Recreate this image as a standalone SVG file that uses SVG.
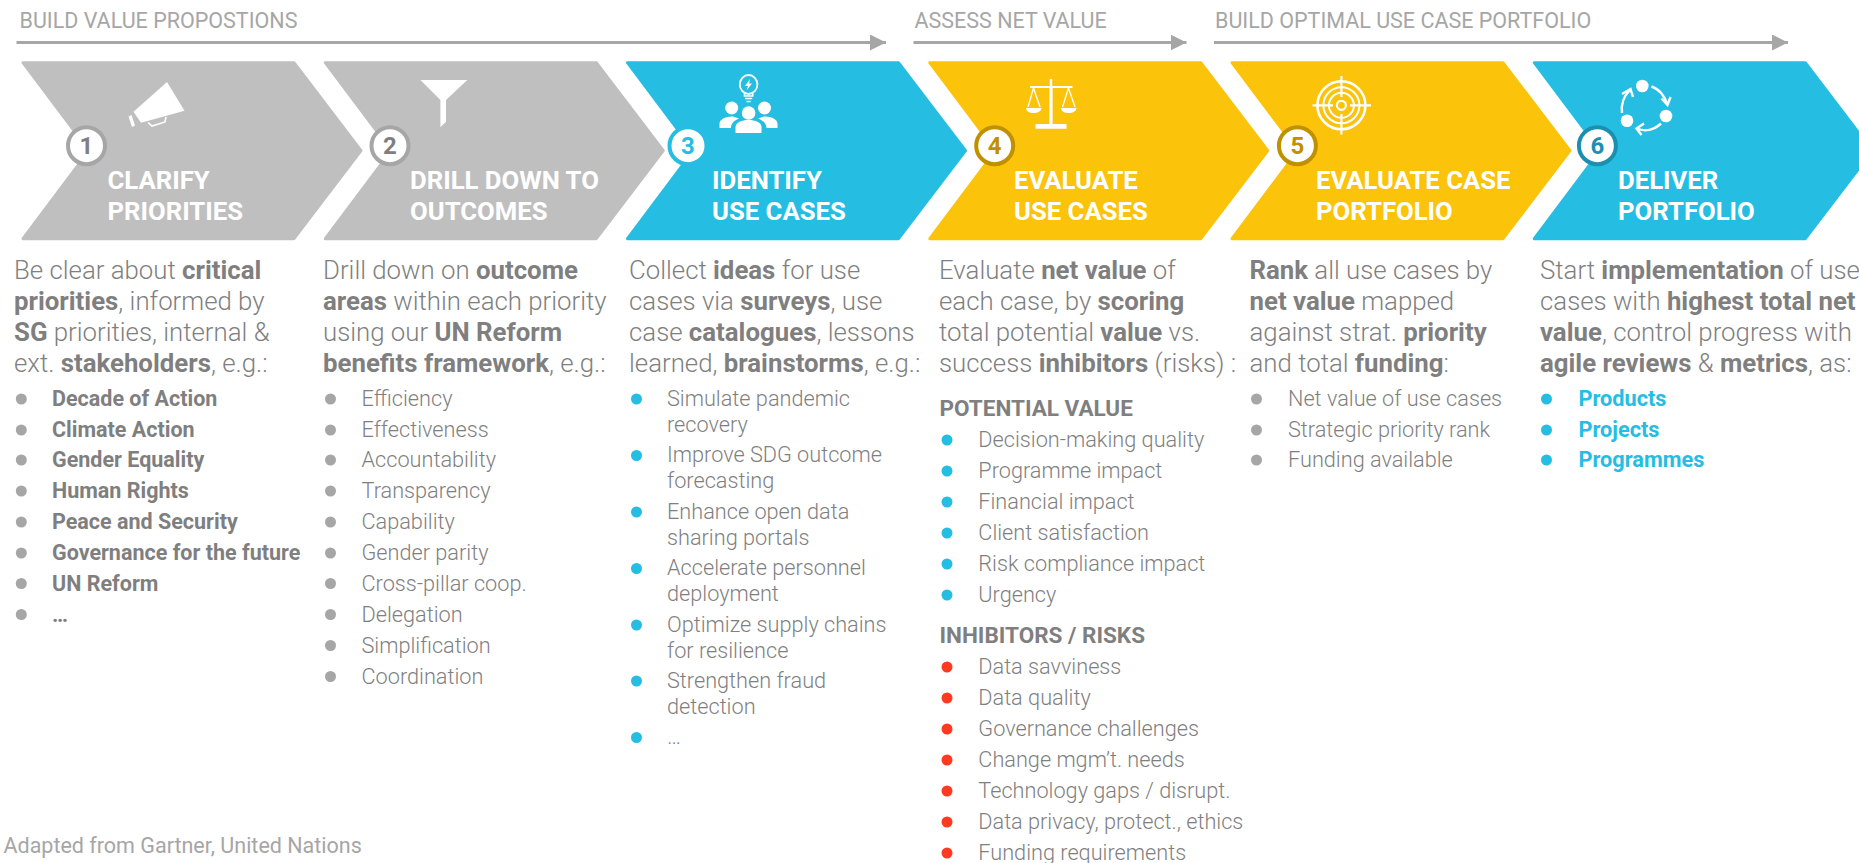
<svg xmlns="http://www.w3.org/2000/svg" width="1859" height="863" viewBox="0 0 1859 863">
<style>
text{font-family:Roboto,"Liberation Sans",sans-serif}
.ph{font-size:21.5px;fill:#a6a6a6}
.ttl{font-size:25.7px;font-weight:700;fill:#fff}
.hd{font-size:25.8px;font-weight:300;fill:#7f7f7f}
.hd tspan.b,.b{font-weight:700}
.li{font-size:21.7px;font-weight:300;fill:#7f7f7f}
.lb{font-size:21.5px;font-weight:700;fill:#7f7f7f}
.sub{font-size:22.5px;font-weight:700;fill:#7f7f7f}
.lbb{font-size:21.7px;font-weight:700;fill:#25bde4}
.num{font-size:24px;font-weight:700;text-anchor:middle}
.g{fill:#bfbfbf;stroke:#bfbfbf}.c{fill:#26bde2;stroke:#26bde2}.y{fill:#fcc30b;stroke:#fcc30b}
.chev{stroke-width:3;stroke-linejoin:round}
.ring{fill:#fff;stroke-width:4}
.dg{fill:#a6a6a6}.dc{fill:#26bde2}.dr{fill:#ff3a21}
.ic{fill:#fff}.il{fill:none;stroke:#fff;stroke-width:2.4}
.conn{fill:none;stroke:#a6a6a6;stroke-width:3;marker-end:url(#ah)}
</style>
<defs>
<marker id="ah" markerUnits="userSpaceOnUse" markerWidth="16" markerHeight="16" refX="16" refY="8" orient="auto"><path d="M0,0L16,8L0,16Z" fill="#a6a6a6"/></marker>
<path id="ch" d="M0,0H271L338,88L271,176H0L66,88Z"/>
</defs>

<g id="phases">
<text class="ph" x="19.5" y="28">BUILD VALUE PROPOSTIONS</text>
<text class="ph" x="914.5" y="28">ASSESS NET VALUE</text>
<text class="ph" x="1215" y="28">BUILD OPTIMAL USE CASE PORTFOLIO</text>
</g>
<g id="connectors">
<path class="conn" d="M16.5,42.5H886"/>
<path class="conn" d="M913.5,42.5H1186.5"/>
<path class="conn" d="M1214,42.5H1788"/>
</g>

<g id="step1">
<use href="#ch" x="23" y="62.7" class="chev g"/>
<path class="ic" d="M167,82L184.5,110.7L141,122.7L133.5,111.7Z"/>
<path class="ic" d="M128.5,116.5L131.5,115L135,125.5L132,127Z"/>
<path class="il" style="stroke-width:1.6" d="M148,122.5L152,126L165,122L166,117"/>
<circle class="ring" cx="86.5" cy="145.7" r="18.5" stroke="#a6a6a6"/>
<text class="num" x="86.5" y="154.2" fill="#7f7f7f">1</text>
<text class="ttl" x="107.5" y="188.5">CLARIFY</text>
<text class="ttl" x="107.5" y="219.5">PRIORITIES</text>
</g>
<g id="step2">
<use href="#ch" x="325.3" y="62.7" class="chev g"/>
<path class="ic" d="M420.4,80H467.3L446,100V121.7L440.4,127.3V100Z"/>
<circle class="ring" cx="390" cy="145.7" r="18.5" stroke="#a6a6a6"/>
<text class="num" x="390" y="154.2" fill="#7f7f7f">2</text>
<text class="ttl" x="410" y="188.5">DRILL DOWN TO</text>
<text class="ttl" x="410" y="219.5">OUTCOMES</text>
</g>
<g id="step3">
<use href="#ch" x="627.5" y="62.7" class="chev c"/>
<ellipse class="il" style="stroke-width:1.8" cx="748.6" cy="84.5" rx="8.8" ry="9.5"/>
<path class="il" style="stroke-width:1.6" d="M744.5,92.5V96H752.7V92.5M745,98.5H752.2M746.5,101.5H750.7"/>
<path class="ic" d="M750,79L745,86H748L746.5,90.5L752,83.5H749Z"/>
<circle class="ic" cx="731.7" cy="108" r="6.5"/>
<circle class="ic" cx="764.5" cy="108" r="6.5"/>
<circle class="ic" cx="748.6" cy="113" r="6.8"/>
<path class="ic" d="M719.5,128V123.5C719.5,119.5 726,116 733,116.5L739,118.5C733,121 731,124 731,128Z"/>
<path class="ic" d="M777.5,128V123.5C777.5,119.5 771,116 764,116.5L758,118.5C764,121 766.5,124 766.5,128Z"/>
<path class="ic" d="M735.5,133V127C735.5,122.5 742,120 748.6,120C755.2,120 761.5,122.5 761.5,127V133Z"/>
<circle class="ring" cx="688" cy="145.7" r="18.5" stroke="#26bde2"/>
<text class="num" x="688" y="154.2" fill="#26bde2">3</text>
<text class="ttl" x="712" y="188.5">IDENTIFY</text>
<text class="ttl" x="712" y="219.5">USE CASES</text>
</g>
<g id="step4">
<use href="#ch" x="929.8" y="62.7" class="chev y"/>
<path class="ic" d="M1049.8,79H1052.2V86H1072.5V88H1052.6V124H1066.5V128.7H1035.5V124H1049.4V88H1030V86H1049.8Z"/>
<path class="il" style="stroke-width:1.3" d="M1033.5,88L1028,107M1033.5,88L1040,107M1068.5,88L1062.5,107M1068.5,88L1075,107"/>
<path class="ic" d="M1026,108H1041.5C1041,112 1037,113 1033.5,113C1030,113 1026.5,112 1026,108Z"/>
<path class="ic" d="M1061,108H1076.5C1076,112 1072,113 1068.5,113C1065,113 1061.5,112 1061,108Z"/>
<circle class="ring" cx="994.7" cy="145.7" r="18.5" stroke="#bf9000"/>
<text class="num" x="994.7" y="154.2" fill="#bf9000">4</text>
<text class="ttl" x="1014" y="188.5">EVALUATE</text>
<text class="ttl" x="1014" y="219.5">USE CASES</text>
</g>
<g id="step5">
<use href="#ch" x="1232" y="62.7" class="chev y"/>
<circle class="il" style="stroke-width:2.6" cx="1341.4" cy="105.3" r="24"/>
<circle class="il" style="stroke-width:2" cx="1341.4" cy="105.3" r="18"/>
<circle class="il" style="stroke-width:2" cx="1341.4" cy="105.3" r="12.5"/>
<circle class="il" style="stroke-width:2.2" cx="1341.4" cy="105.3" r="4.5"/>
<path class="il" style="stroke-width:2.2" d="M1341.4,76V97M1341.4,114V134.5M1312.5,105.3H1333M1350,105.3H1371"/>
<circle class="ring" cx="1297.4" cy="145.7" r="18.5" stroke="#bf9000"/>
<text class="num" x="1297.4" y="154.2" fill="#bf9000">5</text>
<text class="ttl" x="1316" y="188.5">EVALUATE CASE</text>
<text class="ttl" x="1316" y="219.5">PORTFOLIO</text>
</g>
<g id="step6">
<use href="#ch" x="1534.3" y="62.7" class="chev c"/>
<circle class="ic" cx="1642.3" cy="86" r="6.3"/>
<circle class="ic" cx="1666" cy="116" r="6.3"/>
<circle class="ic" cx="1627" cy="120.7" r="6.3"/>
<path class="il" d="M1651.5,86.5C1659,89 1665,96 1667,104M1661.5,98.5L1667.5,105L1670.5,97M1661,123.5C1654,130 1645,132 1637,128.5M1644,123.5L1636.5,128.5L1641.5,135M1622,113C1621,105 1623,97 1630,90M1622,94L1630.5,89L1633,97"/>
<circle class="ring" cx="1597.4" cy="145.7" r="18.5" stroke="#1b8fb0"/>
<text class="num" x="1597.4" y="154.2" fill="#1b8fb0">6</text>
<text class="ttl" x="1618" y="188.5">DELIVER</text>
<text class="ttl" x="1618" y="219.5">PORTFOLIO</text>
</g>

<g id="col1">
<text class="hd" x="14" y="279">Be clear about <tspan class="b">critical</tspan></text>
<text class="hd" x="14" y="310"><tspan class="b">priorities</tspan>, informed by</text>
<text class="hd" x="14" y="341"><tspan class="b">SG</tspan> priorities, internal &amp;</text>
<text class="hd" x="14" y="372">ext. <tspan class="b">stakeholders</tspan>, e.g.:</text>
<g class="dg"><circle cx="21.3" cy="399" r="5.5"/><circle cx="21.3" cy="430" r="5.5"/><circle cx="21.3" cy="460" r="5.5"/><circle cx="21.3" cy="491" r="5.5"/><circle cx="21.3" cy="522" r="5.5"/><circle cx="21.3" cy="553" r="5.5"/><circle cx="21.3" cy="583.5" r="5.5"/><circle cx="21.3" cy="614.5" r="5.5"/></g>
<text class="lb" x="52" y="405.5">Decade of Action</text>
<text class="lb" x="52" y="436.5">Climate Action</text>
<text class="lb" x="52" y="467">Gender Equality</text>
<text class="lb" x="52" y="498">Human Rights</text>
<text class="lb" x="52" y="529">Peace and Security</text>
<text class="lb" x="52" y="560">Governance for the future</text>
<text class="lb" x="52" y="590.5">UN Reform</text>
<text class="lb" x="52" y="621.5">…</text>
</g>
<g id="col2">
<text class="hd" x="323" y="279">Drill down on <tspan class="b">outcome</tspan></text>
<text class="hd" x="323" y="310"><tspan class="b">areas</tspan> within each priority</text>
<text class="hd" x="323" y="341">using our <tspan class="b">UN Reform</tspan></text>
<text class="hd" x="323" y="372"><tspan class="b">benefits framework</tspan>, e.g.:</text>
<g class="dg"><circle cx="330.5" cy="399" r="5.5"/><circle cx="330.5" cy="430" r="5.5"/><circle cx="330.5" cy="460" r="5.5"/><circle cx="330.5" cy="491" r="5.5"/><circle cx="330.5" cy="522" r="5.5"/><circle cx="330.5" cy="553" r="5.5"/><circle cx="330.5" cy="583.5" r="5.5"/><circle cx="330.5" cy="614.5" r="5.5"/><circle cx="330.5" cy="645.5" r="5.5"/><circle cx="330.5" cy="676.5" r="5.5"/></g>
<text class="li" x="361.5" y="405.5">Efficiency</text>
<text class="li" x="361.5" y="436.5">Effectiveness</text>
<text class="li" x="361.5" y="467">Accountability</text>
<text class="li" x="361.5" y="498">Transparency</text>
<text class="li" x="361.5" y="529">Capability</text>
<text class="li" x="361.5" y="560">Gender parity</text>
<text class="li" x="361.5" y="590.5">Cross-pillar coop.</text>
<text class="li" x="361.5" y="621.5">Delegation</text>
<text class="li" x="361.5" y="652.5">Simplification</text>
<text class="li" x="361.5" y="683.5">Coordination</text>
</g>
<g id="col3">
<text class="hd" x="629" y="279">Collect <tspan class="b">ideas</tspan> for use</text>
<text class="hd" x="629" y="310">cases via <tspan class="b">surveys</tspan>, use</text>
<text class="hd" x="629" y="341">case <tspan class="b">catalogues</tspan>, lessons</text>
<text class="hd" x="629" y="372">learned, <tspan class="b">brainstorms</tspan>, e.g.:</text>
<g class="dc"><circle cx="636.5" cy="399" r="5.5"/><circle cx="636.5" cy="455.5" r="5.5"/><circle cx="636.5" cy="512" r="5.5"/><circle cx="636.5" cy="568.5" r="5.5"/><circle cx="636.5" cy="625" r="5.5"/><circle cx="636.5" cy="681" r="5.5"/><circle cx="636.5" cy="737.5" r="5.5"/></g>
<text class="li" x="667" y="405.5">Simulate pandemic</text>
<text class="li" x="667" y="431.5">recovery</text>
<text class="li" x="667" y="462">Improve SDG outcome</text>
<text class="li" x="667" y="488">forecasting</text>
<text class="li" x="667" y="518.5">Enhance open data</text>
<text class="li" x="667" y="544.5">sharing portals</text>
<text class="li" x="667" y="575">Accelerate personnel</text>
<text class="li" x="667" y="601">deployment</text>
<text class="li" x="667" y="631.5">Optimize supply chains</text>
<text class="li" x="667" y="657.5">for resilience</text>
<text class="li" x="667" y="687.5">Strengthen fraud</text>
<text class="li" x="667" y="713.5">detection</text>
<text class="li" x="667" y="744">…</text>
</g>
<g id="col4">
<text class="hd" x="939" y="279">Evaluate <tspan class="b">net value</tspan> of</text>
<text class="hd" x="939" y="310">each case, by <tspan class="b">scoring</tspan></text>
<text class="hd" x="939" y="341">total potential <tspan class="b">value</tspan> vs.</text>
<text class="hd" x="939" y="372">success <tspan class="b">inhibitors</tspan> (risks) :</text>
<text class="sub" x="939.5" y="415.5">POTENTIAL VALUE</text>
<g class="dc"><circle cx="947" cy="440" r="5.5"/><circle cx="947" cy="471" r="5.5"/><circle cx="947" cy="502" r="5.5"/><circle cx="947" cy="533" r="5.5"/><circle cx="947" cy="564" r="5.5"/><circle cx="947" cy="595" r="5.5"/></g>
<text class="li" x="978.3" y="447">Decision-making quality</text>
<text class="li" x="978.3" y="478">Programme impact</text>
<text class="li" x="978.3" y="509">Financial impact</text>
<text class="li" x="978.3" y="540">Client satisfaction</text>
<text class="li" x="978.3" y="571">Risk compliance impact</text>
<text class="li" x="978.3" y="602">Urgency</text>
<text class="sub" x="939.5" y="643">INHIBITORS / RISKS</text>
<g class="dr"><circle cx="947" cy="667" r="5.5"/><circle cx="947" cy="698" r="5.5"/><circle cx="947" cy="729" r="5.5"/><circle cx="947" cy="760" r="5.5"/><circle cx="947" cy="791" r="5.5"/><circle cx="947" cy="822" r="5.5"/><circle cx="947" cy="853" r="5.5"/></g>
<text class="li" x="978.3" y="674">Data savviness</text>
<text class="li" x="978.3" y="705">Data quality</text>
<text class="li" x="978.3" y="736">Governance challenges</text>
<text class="li" x="978.3" y="767">Change mgm’t. needs</text>
<text class="li" x="978.3" y="798">Technology gaps / disrupt.</text>
<text class="li" x="978.3" y="829">Data privacy, protect., ethics</text>
<text class="li" x="978.3" y="860">Funding requirements</text>
</g>
<g id="col5">
<text class="hd" x="1249.5" y="279"><tspan class="b">Rank</tspan> all use cases by</text>
<text class="hd" x="1249.5" y="310"><tspan class="b">net value</tspan> mapped</text>
<text class="hd" x="1249.5" y="341">against strat. <tspan class="b">priority</tspan></text>
<text class="hd" x="1249.5" y="372">and total <tspan class="b">funding</tspan>:</text>
<g class="dg"><circle cx="1256.5" cy="399" r="5.5"/><circle cx="1256.5" cy="430" r="5.5"/><circle cx="1256.5" cy="460" r="5.5"/></g>
<text class="li" x="1288" y="405.5">Net value of use cases</text>
<text class="li" x="1288" y="436.5">Strategic priority rank</text>
<text class="li" x="1288" y="467">Funding available</text>
</g>
<g id="col6">
<text class="hd" x="1540" y="279">Start <tspan class="b">implementation</tspan> of use</text>
<text class="hd" x="1540" y="310">cases with <tspan class="b">highest total net</tspan></text>
<text class="hd" x="1540" y="341"><tspan class="b">value</tspan>, control progress with</text>
<text class="hd" x="1540" y="372"><tspan class="b">agile reviews</tspan> &amp; <tspan class="b">metrics</tspan>, as:</text>
<g class="dc"><circle cx="1546.5" cy="399" r="5.5"/><circle cx="1546.5" cy="430" r="5.5"/><circle cx="1546.5" cy="460" r="5.5"/></g>
<text class="lbb" x="1578.5" y="405.5">Products</text>
<text class="lbb" x="1578.5" y="436.5">Projects</text>
<text class="lbb" x="1578.5" y="467">Programmes</text>
</g>
<text id="source" class="ph" x="3.5" y="852.5" style="font-weight:400">Adapted from Gartner, United Nations</text>
</svg>
